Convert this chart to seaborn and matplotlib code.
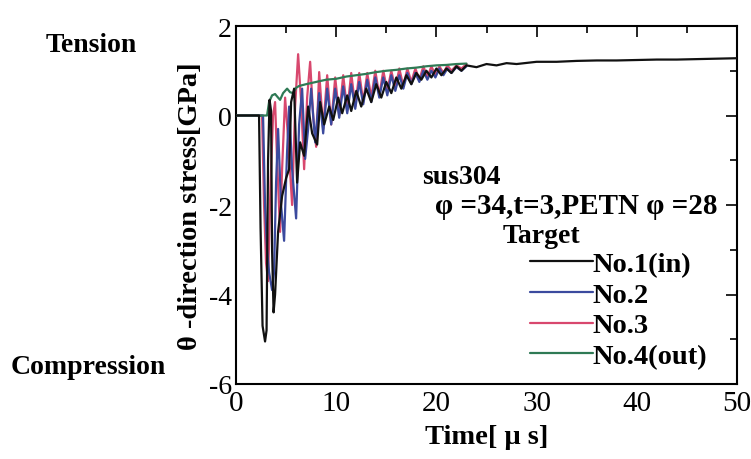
import numpy as np
import pandas as pd
import matplotlib
matplotlib.use("Agg")
import matplotlib.pyplot as plt
import seaborn as sns
from matplotlib.ticker import MultipleLocator

# ---------------- data ----------------
t_no1 = [0, 2.3, 2.45, 2.65, 2.9, 3.05, 3.2, 3.35, 3.5, 3.6, 3.75, 3.9, 4.2, 4.6, 5.0,
         5.3, 5.5, 5.8, 6.1, 6.4, 6.8, 7.2, 7.6, 8.1, 8.4, 8.8, 9.3, 9.7, 10.2, 10.6,
         11.1, 11.5, 12.0, 12.5, 13.0, 13.5, 14.0, 14.5, 15.0, 15.5, 16.0, 16.5, 17.0,
         17.5, 18.0, 18.5, 19.0, 19.5, 20.0, 20.5, 21.0, 21.5, 22.0, 22.5, 23.0, 24, 25,
         26, 27, 28, 30, 32, 34, 36, 38, 40, 42, 44, 46, 48, 50]
v_no1 = [0, 0, -2.5, -4.7, -5.05, -4.8, -1.0, 0.35, 0.1, -3.0, -4.4, -4.0, -2.6, -1.8, -1.4,
         -1.2, 0.3, 0.6, -1.5, -0.6, -0.9, 0.2, -0.4, -0.65, 0.3, -0.2, 0.2, -0.1, 0.4, 0.05,
         0.45, 0.1, 0.55, 0.2, 0.6, 0.3, 0.7, 0.4, 0.75, 0.5, 0.85, 0.6, 0.9,
         0.7, 0.95, 0.8, 1.0, 0.85, 1.05, 0.9, 1.05, 0.95, 1.1, 1.0, 1.12, 1.08, 1.15,
         1.12, 1.17, 1.15, 1.2, 1.2, 1.22, 1.23, 1.23, 1.24, 1.25, 1.25, 1.26, 1.27, 1.28]

t_no2 = [0, 2.7, 2.9, 3.1, 3.3, 3.6, 3.8, 4.0, 4.2, 4.5, 4.8, 5.1, 5.3, 5.6, 6.0, 6.3, 6.6,
         6.9, 7.2, 7.5, 7.9, 8.3, 8.7, 9.1, 9.5, 9.9, 10.3, 10.7, 11.1, 11.5, 11.9, 12.3,
         12.7, 13.1, 13.5, 13.9, 14.3, 14.7, 15.1, 15.5, 15.9, 16.3, 16.7, 17.1, 17.5,
         17.9, 18.3, 18.7, 19.1, 19.5, 19.9, 20.3, 20.7, 21.1, 21.5, 22.0, 22.5, 23.0]
v_no2 = [0, 0, -2.0, -3.0, -3.5, -3.9, -3.5, -1.5, -0.3, -2.0, -2.8, -0.8, 0.2, -1.2, -2.3, -0.2, 0.6,
         -0.97, -0.3, 0.6, -0.6, 0.5, -0.4, 0.6, -0.2, 0.6, -0.05, 0.65, 0.05, 0.7, 0.15, 0.75,
         0.25, 0.8, 0.3, 0.85, 0.4, 0.85, 0.45, 0.9, 0.55, 0.9, 0.6, 0.95, 0.7,
         0.95, 0.75, 1.0, 0.8, 1.0, 0.85, 1.05, 0.9, 1.05, 0.95, 1.08, 1.0, 1.1]

t_no3 = [0, 2.6, 2.8, 3.0, 3.2, 3.45, 3.7, 3.9, 4.1, 4.4, 4.6, 4.9, 5.2, 5.6, 5.9, 6.2, 6.5,
         6.8, 7.1, 7.4, 7.7, 8.0, 8.3, 8.7, 9.1, 9.5, 9.9, 10.3, 10.7, 11.1, 11.5, 11.9,
         12.3, 12.7, 13.1, 13.5, 13.9, 14.3, 14.7, 15.1, 15.5, 15.9, 16.3, 16.7, 17.1,
         17.5, 17.9, 18.3, 18.7, 19.1, 19.5, 19.9, 20.3, 20.7, 21.1, 21.5, 22.0, 22.5, 23.0]
v_no3 = [0, 0, -2.0, -3.3, -3.7, -1.5, 0.0, 0.3, -1.0, -2.6, -1.2, 0.4, -0.5, -2.0, 0.2, 1.37, 0.3,
         -1.2, 0.4, 1.2, 0.0, -0.7, 0.97, -0.3, 0.9, -0.2, 0.85, 0.0, 0.9, 0.1, 0.95, 0.2,
         0.95, 0.3, 0.95, 0.4, 1.0, 0.45, 1.0, 0.55, 1.0, 0.6, 1.05, 0.65, 1.05,
         0.75, 1.05, 0.8, 1.1, 0.85, 1.1, 0.9, 1.1, 0.95, 1.12, 1.0, 1.12, 1.05, 1.15]

t_no4 = [0, 3.1, 3.3, 3.6, 3.9, 4.2, 4.4, 4.7, 5.1, 5.4, 5.7, 6.0, 6.3, 7, 8, 9, 10, 11, 12,
         13, 14, 15, 16, 17, 18, 19, 20, 21, 22, 23]
v_no4 = [0, 0, 0.3, 0.45, 0.48, 0.4, 0.35, 0.5, 0.6, 0.52, 0.5, 0.62, 0.66, 0.7, 0.75, 0.8,
         0.82, 0.87, 0.9, 0.93, 0.97, 1.0, 1.02, 1.05, 1.07, 1.1, 1.12, 1.13, 1.15, 1.16]

labels = ["No.1(in)", "No.2", "No.3", "No.4(out)"]
colors = ["#111111", "#3b4a9e", "#d8486e", "#2f7a55"]
series_t = [t_no1, t_no2, t_no3, t_no4]
series_v = [v_no1, v_no2, v_no3, v_no4]

x_ticks = [0, 10, 20, 30, 40, 50]
y_ticks = [-6, -4, -2, 0, 2]

# ---------------- drawing ----------------
sns.set_theme(style="white")
plt.rcParams["font.family"] = ["Liberation Serif", "DejaVu Serif"]
plt.rcParams["axes.unicode_minus"] = False

W, H = 751, 460
fig = plt.figure(figsize=(W / 100, H / 100), dpi=100)
ax = fig.add_axes([236 / W, 1 - 385 / H, (737 - 236) / W, (385 - 27) / H])

zorders = [5, 3, 2, 4]
handles = []
for t, v, lab, c, z in zip(series_t, series_v, labels, colors, zorders):
    df = pd.DataFrame({"t": t, "v": v})
    sns.lineplot(data=df, x="t", y="v", ax=ax, color=c, linewidth=1.6,
                 estimator=None, sort=False, zorder=z, label=lab)
    handles.append(ax.lines[-1])

ax.set_xlim(0, 50)
ax.set_ylim(-6, 2)
ax.set_xticks(x_ticks)
ax.set_yticks(y_ticks)
ax.xaxis.set_minor_locator(MultipleLocator(5))
ax.yaxis.set_minor_locator(MultipleLocator(1))
ax.tick_params(which="both", direction="in", top=True, right=True, color="black", width=1.2)
ax.tick_params(which="major", length=8)
ax.tick_params(which="minor", length=5)
ax.tick_params(axis="x", labelsize=21, pad=4, labelcolor="black")
ax.tick_params(axis="y", labelsize=20, pad=3, labelcolor="black")
for sp in ax.spines.values():
    sp.set_color("black")
    sp.set_linewidth(1.5)

ax.set_xlabel("Time[ μ s]", fontsize=20.5, fontweight="bold", labelpad=6, color="black")
ax.set_ylabel("θ -direction stress[GPa]", fontsize=20.5, fontweight="bold", color="black")
ax.yaxis.set_label_coords(-0.066, 0.5)

leg = ax.legend(handles, labels, loc="upper left",
                bbox_to_anchor=(530 / W, 1 - 252 / H), bbox_transform=fig.transFigure,
                frameon=False, borderpad=0, borderaxespad=0, handlelength=2.2,
                handletextpad=0.0, labelspacing=0.17,
                prop={"family": "Liberation Serif", "weight": "bold", "size": 20.5})
for txt in leg.get_texts():
    txt.set_color("black")

tk = dict(fontsize=20, fontweight="bold", color="black")
fig.text(422 / W, 1 - 178 / H, "sus304", ha="left", va="center", **tk)
fig.text(576 / W, 1 - 207 / H, "φ =34,t=3,PETN φ =28", ha="center", va="center",
         fontsize=21, fontweight="bold", color="black")
fig.text(541 / W, 1 - 237 / H, "Target", ha="center", va="center", **tk)
fig.text(91 / W, 1 - 45 / H, "Tension", ha="center", va="center", **tk)
fig.text(88 / W, 1 - 368 / H, "Compression", ha="center", va="center", **tk)

fig.savefig("out.png", dpi=100)
